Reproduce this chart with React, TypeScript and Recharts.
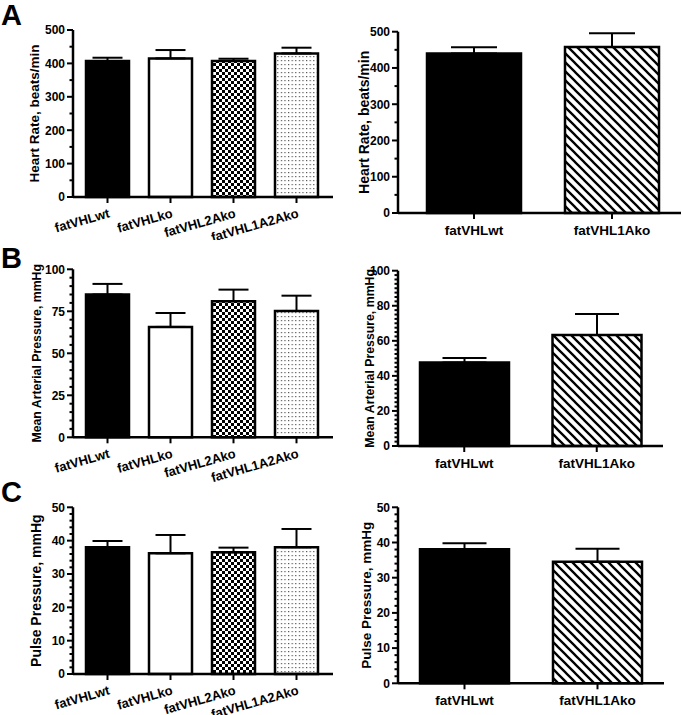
import React from 'react';
import { BarChart, Bar, XAxis, YAxis, ErrorBar, Cell } from 'recharts';

const groupsFour = ['fatVHLwt', 'fatVHLko', 'fatVHL2Ako', 'fatVHL1A2Ako'];
const groupsTwo = ['fatVHLwt', 'fatVHL1Ako'];

// means and SEM
const heartRateFour = [407, 415, 407, 430];
const heartRateFourSem = [10, 25, 7, 17];
const heartRateTwo = [440, 458];
const heartRateTwoSem = [17, 38];

const mapFour = [85, 65.7, 81, 75.2];
const mapFourSem = [6.3, 8.3, 6.9, 9.1];
const mapTwo = [47.7, 63.3];
const mapTwoSem = [2.5, 12];

const pulseFour = [38, 36.2, 36.5, 38];
const pulseFourSem = [1.9, 5.5, 1.4, 5.5];
const pulseTwo = [38.1, 34.5];
const pulseTwoSem = [1.7, 3.7];

const hrTicks = [0, 100, 200, 300, 400, 500];
const mapFourTicks = [0, 25, 50, 75, 100];
const mapTwoTicks = [0, 20, 40, 60, 80, 100];
const pulseTicks = [0, 10, 20, 30, 40, 50];

const fourFills = ['#000', '#fff', 'url(#checker)', 'url(#dots)'];
const twoFills = ['#000', 'url(#hatch)'];

const FONT = "'Liberation Sans', Arial, Helvetica, sans-serif";

const withMinor = (majors: number[], step: number) => {
  const out: number[] = [];
  const max = majors[majors.length - 1];
  for (let v = 0; v <= max + 1e-9; v += step) out.push(Math.round(v * 100) / 100);
  majors.forEach(m => { if (!out.includes(m)) out.push(m); });
  return out.sort((a, b) => a - b);
};

const YTick = (props: any) => {
  const { x, y, payload, majors, fontSize } = props;
  const major = majors.includes(payload.value);
  return (
    <g>
      <line x1={x - (major ? 6 : 3.5)} x2={x} y1={y} y2={y} stroke="#000" strokeWidth={2} />
      {major && (
        <text x={x - 8} y={y} dy="0.36em" textAnchor="end" fontSize={fontSize} fontWeight="bold" fontFamily={FONT} fill="#000">
          {payload.value}
        </text>
      )}
    </g>
  );
};

const XTick = (props: any) => {
  const { x, y, payload, rotated } = props;
  return (
    <g>
      <line x1={x} x2={x} y1={y} y2={y + 6} stroke="#000" strokeWidth={2} />
      {rotated ? (
        <text x={x + 3} y={y + 20} textAnchor="end" transform={`rotate(-16, ${x + 3}, ${y + 20})`}
          fontSize={13} fontWeight="bold" fontFamily={FONT} fill="#000">{payload.value}</text>
      ) : (
        <text x={x} y={y + 22} textAnchor="middle" fontSize={13.5} fontWeight="bold" fontFamily={FONT} fill="#000">{payload.value}</text>
      )}
    </g>
  );
};

type PanelProps = {
  left: number; top: number; width: number; height: number;
  axisX: number; plotRight: number; plotTop: number; plotBottom: number;
  padL: number; padR: number;
  groups: string[]; means: number[]; sems: number[]; fills: string[];
  ticks: number[]; minor: number;
  yLabel: string; yLabelSize: number; yLabelDx: number;
  tickSize: number; barSize: number; capWidth: number; rotated: boolean;
};

const Panel = (p: PanelProps) => {
  const data = p.groups.map((g, i) => ({ name: g, mean: p.means[i], err: [0, p.sems[i]] }));
  const yWidth = p.axisX - p.left;
  const xHeight = p.top + p.height - p.plotBottom;
  return (
    <div style={{ position: 'absolute', left: p.left, top: p.top }}>
      <BarChart width={p.width} height={p.height} data={data} style={{ overflow: 'visible' }}
        margin={{ top: p.plotTop - p.top, right: p.left + p.width - p.plotRight, bottom: 0, left: 0 }}>
        <XAxis dataKey="name" height={xHeight} padding={{ left: p.padL, right: p.padR }}
          axisLine={{ stroke: '#000', strokeWidth: 2.5 }} tickLine={false} tickSize={0} tickMargin={0} interval={0}
          tick={(tp: any) => <XTick {...tp} rotated={p.rotated} />} />
        <YAxis width={yWidth} domain={[0, p.ticks[p.ticks.length - 1]]} ticks={withMinor(p.ticks, p.minor)} interval={0}
          axisLine={{ stroke: '#000', strokeWidth: 2.5 }} tickLine={false} tickSize={0} tickMargin={0}
          tick={(tp: any) => <YTick {...tp} majors={p.ticks} fontSize={p.tickSize} />}
          label={{ value: p.yLabel, angle: -90, position: 'center', dx: p.yLabelDx, fill: '#000', fontSize: p.yLabelSize, fontWeight: 'bold', fontFamily: FONT }} />
        <Bar dataKey="mean" barSize={p.barSize} stroke="#000" strokeWidth={2.5} isAnimationActive={false}>
          {data.map((d, i) => <Cell key={d.name} fill={p.fills[i]} />)}
          <ErrorBar dataKey="err" width={p.capWidth} stroke="#000" strokeWidth={2} direction="y" isAnimationActive={false} />
        </Bar>
      </BarChart>
    </div>
  );
};

export default function App() {
  return (
    <div style={{ position: 'absolute', left: 0, top: 0, width: 682, height: 715, background: '#fff', overflow: 'hidden' }}>
      <svg width={682} height={715} style={{ position: 'absolute', left: 0, top: 0 }}>
        <defs>
          <pattern id="checker" width="6" height="6" patternUnits="userSpaceOnUse">
            <rect width="6" height="6" fill="#fff" />
            <rect width="3" height="3" fill="#000" />
            <rect x="3" y="3" width="3" height="3" fill="#000" />
          </pattern>
          <pattern id="dots" width="3.6" height="4" patternUnits="userSpaceOnUse">
            <rect width="3.6" height="4" fill="#fff" />
            <rect width="1.2" height="1.2" fill="#555" />
          </pattern>
          <pattern id="hatch" width="9" height="9" patternUnits="userSpaceOnUse">
            <rect width="9" height="9" fill="#fff" />
            <path d="M0,0 L9,9 M-3,6 L3,12 M6,-3 L12,3" stroke="#000" strokeWidth="2.3" />
          </pattern>
        </defs>
        <g fontFamily={FONT} fontWeight="bold" fontSize={29} fill="#000">
          <text x={1} y={25}>A</text>
          <text x={1} y={268}>B</text>
          <text x={1} y={502}>C</text>
        </g>
      </svg>

      <Panel left={0} top={0} width={341} height={240} axisX={73} plotRight={333} plotTop={30} plotBottom={197}
        padL={3} padR={5} groups={groupsFour} means={heartRateFour} sems={heartRateFourSem} fills={fourFills}
        ticks={hrTicks} minor={50} yLabel="Heart Rate, beats/min" yLabelSize={13.5} yLabelDx={-2}
        tickSize={12} barSize={43} capWidth={15} rotated />
      <Panel left={341} top={0} width={341} height={240} axisX={398} plotRight={681} plotTop={31.7} plotBottom={213}
        padL={7} padR={0} groups={groupsTwo} means={heartRateTwo} sems={heartRateTwoSem} fills={twoFills}
        ticks={hrTicks} minor={50} yLabel="Heart Rate, beats/min" yLabelSize={14} yLabelDx={-5}
        tickSize={12} barSize={94} capWidth={23} rotated={false} />

      <Panel left={0} top={240} width={341} height={245} axisX={73} plotRight={333} plotTop={269.3} plotBottom={437.3}
        padL={3} padR={5} groups={groupsFour} means={mapFour} sems={mapFourSem} fills={fourFills}
        ticks={mapFourTicks} minor={5} yLabel="Mean Arterial Pressure, mmHg" yLabelSize={12.3} yLabelDx={0}
        tickSize={12} barSize={43} capWidth={15} rotated />
      <Panel left={341} top={240} width={341} height={240} axisX={398} plotRight={663} plotTop={270.7} plotBottom={446}
        padL={0} padR={0} groups={groupsTwo} means={mapTwo} sems={mapTwoSem} fills={twoFills}
        ticks={mapTwoTicks} minor={2.5} yLabel="Mean Arterial Pressure, mmHg" yLabelSize={12.3} yLabelDx={0}
        tickSize={12} barSize={89} capWidth={22} rotated={false} />

      <Panel left={0} top={475} width={341} height={240} axisX={73} plotRight={333} plotTop={507.3} plotBottom={674}
        padL={3} padR={5} groups={groupsFour} means={pulseFour} sems={pulseFourSem} fills={fourFills}
        ticks={pulseTicks} minor={2} yLabel="Pulse Pressure, mmHg" yLabelSize={14} yLabelDx={0}
        tickSize={12} barSize={43} capWidth={15} rotated />
      <Panel left={341} top={475} width={341} height={240} axisX={398} plotRight={664} plotTop={507.3} plotBottom={683.3}
        padL={0} padR={0} groups={groupsTwo} means={pulseTwo} sems={pulseTwoSem} fills={twoFills}
        ticks={pulseTicks} minor={2} yLabel="Pulse Pressure, mmHg" yLabelSize={13.5} yLabelDx={-3}
        tickSize={12} barSize={89} capWidth={22} rotated={false} />
    </div>
  );
}
